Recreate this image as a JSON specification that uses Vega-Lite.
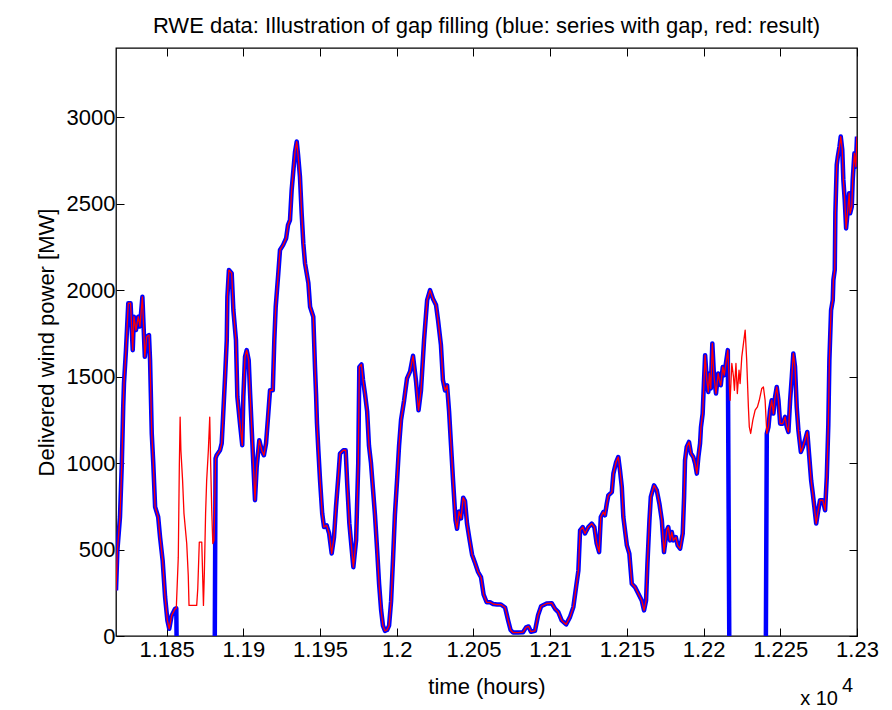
{
  "$schema": "https://vega.github.io/schema/vega-lite/v6.json",
  "width": 741,
  "height": 588,
  "autosize": {"type": "none"},
  "padding": {"left": 116, "top": 48, "right": 35, "bottom": 74},
  "background": "white",
  "title": {
    "text": "RWE data: Illustration of gap filling (blue: series with gap, red: result)",
    "font": "Liberation Sans",
    "fontSize": 22,
    "fontWeight": "normal",
    "color": "#000000",
    "anchor": "middle",
    "baseline": "alphabetic",
    "offset": 15,
    "dy": 22
  },
  "config": {
    "font": "Liberation Sans",
    "view": {"stroke": "#000000", "strokeWidth": 1.3},
    "axis": {
      "grid": false,
      "domain": false,
      "tickColor": "#000000",
      "tickWidth": 1,
      "labelColor": "#000000",
      "labelFont": "Liberation Sans",
      "labelFontSize": 22,
      "titleColor": "#000000",
      "titleFont": "Liberation Sans",
      "titleFontSize": 22,
      "titleFontWeight": "normal",
      "labelFlush": false,
      "labelOverlap": false
    }
  },
  "data": {
    "values": [
      {"hours": 11817.0, "result": 263, "with_gap": 263},
      {"hours": 11817.9, "result": 495, "with_gap": 495},
      {"hours": 11819.6, "result": 688, "with_gap": 688},
      {"hours": 11820.8, "result": 998, "with_gap": 998},
      {"hours": 11821.7, "result": 1325, "with_gap": 1325},
      {"hours": 11822.2, "result": 1461, "with_gap": 1461},
      {"hours": 11823.5, "result": 1653, "with_gap": 1653},
      {"hours": 11825.0, "result": 1924, "with_gap": 1924},
      {"hours": 11826.5, "result": 1924, "with_gap": 1924},
      {"hours": 11827.9, "result": 1653, "with_gap": 1653},
      {"hours": 11828.7, "result": 1846, "with_gap": 1846},
      {"hours": 11830.0, "result": 1769, "with_gap": 1769},
      {"hours": 11831.5, "result": 1846, "with_gap": 1846},
      {"hours": 11832.6, "result": 1790, "with_gap": 1790},
      {"hours": 11834.2, "result": 1961, "with_gap": 1961},
      {"hours": 11835.8, "result": 1614, "with_gap": 1614},
      {"hours": 11837.0, "result": 1730, "with_gap": 1730},
      {"hours": 11838.5, "result": 1740, "with_gap": 1740},
      {"hours": 11839.2, "result": 1595, "with_gap": 1595},
      {"hours": 11840.3, "result": 1172, "with_gap": 1172},
      {"hours": 11841.3, "result": 998, "with_gap": 998},
      {"hours": 11842.5, "result": 746, "with_gap": 746},
      {"hours": 11844.5, "result": 688, "with_gap": 688},
      {"hours": 11845.7, "result": 572, "with_gap": 572},
      {"hours": 11847.4, "result": 437, "with_gap": 437},
      {"hours": 11849.0, "result": 225, "with_gap": 225},
      {"hours": 11850.5, "result": 90, "with_gap": 90},
      {"hours": 11851.7, "result": 42, "with_gap": 42},
      {"hours": 11853.3, "result": 119, "with_gap": 119},
      {"hours": 11855.5, "result": 157, "with_gap": 157},
      {"hours": 11856.3, "result": 160, "with_gap": 160},
      {"hours": 11857.6, "result": 456, "with_gap": -1000},
      {"hours": 11858.3, "result": 998, "with_gap": -1000},
      {"hours": 11858.8, "result": 1266, "with_gap": -1000},
      {"hours": 11859.3, "result": 1074, "with_gap": -1000},
      {"hours": 11860.4, "result": 900, "with_gap": -1000},
      {"hours": 11861.3, "result": 709, "with_gap": -1000},
      {"hours": 11863.1, "result": 535, "with_gap": -1000},
      {"hours": 11864.1, "result": 350, "with_gap": -1000},
      {"hours": 11864.6, "result": 177, "with_gap": -1000},
      {"hours": 11869.6, "result": 177, "with_gap": -1000},
      {"hours": 11870.3, "result": 275, "with_gap": -1000},
      {"hours": 11871.3, "result": 543, "with_gap": -1000},
      {"hours": 11872.9, "result": 543, "with_gap": -1000},
      {"hours": 11874.0, "result": 177, "with_gap": -1000},
      {"hours": 11874.6, "result": 369, "with_gap": -1000},
      {"hours": 11875.4, "result": 709, "with_gap": -1000},
      {"hours": 11876.1, "result": 900, "with_gap": -1000},
      {"hours": 11877.2, "result": 1074, "with_gap": -1000},
      {"hours": 11878.1, "result": 1266, "with_gap": -1000},
      {"hours": 11878.7, "result": 998, "with_gap": -1000},
      {"hours": 11879.4, "result": 727, "with_gap": -1000},
      {"hours": 11880.1, "result": 535, "with_gap": -1000},
      {"hours": 11880.9, "result": 553, "with_gap": -1000},
      {"hours": 11881.9, "result": 1027, "with_gap": 1027},
      {"hours": 11882.6, "result": 1045, "with_gap": 1045},
      {"hours": 11884.8, "result": 1074, "with_gap": 1074},
      {"hours": 11885.9, "result": 1114, "with_gap": 1114},
      {"hours": 11887.0, "result": 1305, "with_gap": 1305},
      {"hours": 11888.1, "result": 1498, "with_gap": 1498},
      {"hours": 11889.2, "result": 1711, "with_gap": 1711},
      {"hours": 11889.6, "result": 1961, "with_gap": 1961},
      {"hours": 11890.6, "result": 2116, "with_gap": 2116},
      {"hours": 11892.4, "result": 2098, "with_gap": 2098},
      {"hours": 11893.5, "result": 1885, "with_gap": 1885},
      {"hours": 11895.2, "result": 1711, "with_gap": 1711},
      {"hours": 11896.1, "result": 1383, "with_gap": 1383},
      {"hours": 11897.8, "result": 1230, "with_gap": 1230},
      {"hours": 11899.3, "result": 1103, "with_gap": 1103},
      {"hours": 11900.0, "result": 1383, "with_gap": 1383},
      {"hours": 11901.1, "result": 1614, "with_gap": 1614},
      {"hours": 11902.2, "result": 1653, "with_gap": 1653},
      {"hours": 11903.5, "result": 1595, "with_gap": 1595},
      {"hours": 11904.4, "result": 1403, "with_gap": 1403},
      {"hours": 11905.6, "result": 1172, "with_gap": 1172},
      {"hours": 11906.5, "result": 998, "with_gap": 998},
      {"hours": 11907.6, "result": 785, "with_gap": 785},
      {"hours": 11908.7, "result": 977, "with_gap": 977},
      {"hours": 11910.4, "result": 1132, "with_gap": 1132},
      {"hours": 11912.0, "result": 1074, "with_gap": 1074},
      {"hours": 11913.4, "result": 1045, "with_gap": 1045},
      {"hours": 11914.8, "result": 1114, "with_gap": 1114},
      {"hours": 11916.1, "result": 1266, "with_gap": 1266},
      {"hours": 11917.4, "result": 1421, "with_gap": 1421},
      {"hours": 11919.2, "result": 1421, "with_gap": 1421},
      {"hours": 11920.2, "result": 1711, "with_gap": 1711},
      {"hours": 11921.1, "result": 1904, "with_gap": 1904},
      {"hours": 11922.8, "result": 2098, "with_gap": 2098},
      {"hours": 11923.9, "result": 2232, "with_gap": 2232},
      {"hours": 11925.9, "result": 2260, "with_gap": 2260},
      {"hours": 11927.9, "result": 2300, "with_gap": 2300},
      {"hours": 11929.1, "result": 2376, "with_gap": 2376},
      {"hours": 11930.4, "result": 2405, "with_gap": 2405},
      {"hours": 11931.5, "result": 2579, "with_gap": 2579},
      {"hours": 11932.7, "result": 2700, "with_gap": 2700},
      {"hours": 11933.7, "result": 2800, "with_gap": 2800},
      {"hours": 11934.8, "result": 2859, "with_gap": 2859},
      {"hours": 11935.7, "result": 2780, "with_gap": 2780},
      {"hours": 11936.9, "result": 2656, "with_gap": 2656},
      {"hours": 11938.0, "result": 2446, "with_gap": 2446},
      {"hours": 11939.1, "result": 2270, "with_gap": 2270},
      {"hours": 11940.2, "result": 2155, "with_gap": 2155},
      {"hours": 11942.4, "result": 2040, "with_gap": 2040},
      {"hours": 11943.5, "result": 1904, "with_gap": 1904},
      {"hours": 11945.6, "result": 1846, "with_gap": 1846},
      {"hours": 11946.7, "result": 1556, "with_gap": 1556},
      {"hours": 11947.4, "result": 1400, "with_gap": 1400},
      {"hours": 11948.0, "result": 1230, "with_gap": 1230},
      {"hours": 11948.9, "result": 1074, "with_gap": 1074},
      {"hours": 11950.0, "result": 900, "with_gap": 900},
      {"hours": 11951.4, "result": 709, "with_gap": 709},
      {"hours": 11952.6, "result": 630, "with_gap": 630},
      {"hours": 11954.3, "result": 640, "with_gap": 640},
      {"hours": 11955.9, "result": 593, "with_gap": 593},
      {"hours": 11957.6, "result": 477, "with_gap": 477},
      {"hours": 11959.1, "result": 572, "with_gap": 572},
      {"hours": 11960.4, "result": 746, "with_gap": 746},
      {"hours": 11961.9, "result": 919, "with_gap": 919},
      {"hours": 11963.0, "result": 1055, "with_gap": 1055},
      {"hours": 11965.2, "result": 1074, "with_gap": 1074},
      {"hours": 11966.7, "result": 1074, "with_gap": 1074},
      {"hours": 11967.7, "result": 882, "with_gap": 882},
      {"hours": 11969.1, "result": 651, "with_gap": 651},
      {"hours": 11971.7, "result": 398, "with_gap": 398},
      {"hours": 11973.5, "result": 553, "with_gap": 553},
      {"hours": 11974.9, "result": 998, "with_gap": 998},
      {"hours": 11975.6, "result": 1556, "with_gap": 1556},
      {"hours": 11977.0, "result": 1570, "with_gap": 1570},
      {"hours": 11978.0, "result": 1480, "with_gap": 1480},
      {"hours": 11979.3, "result": 1400, "with_gap": 1400},
      {"hours": 11980.7, "result": 1300, "with_gap": 1300},
      {"hours": 11981.9, "result": 1100, "with_gap": 1100},
      {"hours": 11983.2, "result": 1000, "with_gap": 1000},
      {"hours": 11984.5, "result": 850, "with_gap": 850},
      {"hours": 11985.8, "result": 700, "with_gap": 700},
      {"hours": 11987.2, "result": 500, "with_gap": 500},
      {"hours": 11988.5, "result": 300, "with_gap": 300},
      {"hours": 11989.8, "result": 150, "with_gap": 150},
      {"hours": 11991.0, "result": 60, "with_gap": 60},
      {"hours": 11992.3, "result": 30, "with_gap": 30},
      {"hours": 11993.7, "result": 35, "with_gap": 35},
      {"hours": 11995.0, "result": 60, "with_gap": 60},
      {"hours": 11996.3, "result": 200, "with_gap": 200},
      {"hours": 11997.6, "result": 450, "with_gap": 450},
      {"hours": 11998.8, "result": 700, "with_gap": 700},
      {"hours": 12000.2, "result": 900, "with_gap": 900},
      {"hours": 12001.5, "result": 1100, "with_gap": 1100},
      {"hours": 12002.8, "result": 1250, "with_gap": 1250},
      {"hours": 12004.8, "result": 1363, "with_gap": 1363},
      {"hours": 12006.7, "result": 1490, "with_gap": 1490},
      {"hours": 12008.7, "result": 1530, "with_gap": 1530},
      {"hours": 12010.6, "result": 1620, "with_gap": 1620},
      {"hours": 12012.6, "result": 1470, "with_gap": 1470},
      {"hours": 12014.2, "result": 1305, "with_gap": 1305},
      {"hours": 12015.8, "result": 1420, "with_gap": 1420},
      {"hours": 12017.8, "result": 1711, "with_gap": 1711},
      {"hours": 12019.8, "result": 1942, "with_gap": 1942},
      {"hours": 12021.7, "result": 2000, "with_gap": 2000},
      {"hours": 12023.6, "result": 1950, "with_gap": 1950},
      {"hours": 12025.6, "result": 1914, "with_gap": 1914},
      {"hours": 12026.9, "result": 1827, "with_gap": 1827},
      {"hours": 12028.8, "result": 1682, "with_gap": 1682},
      {"hours": 12030.1, "result": 1480, "with_gap": 1480},
      {"hours": 12031.5, "result": 1420, "with_gap": 1420},
      {"hours": 12032.8, "result": 1450, "with_gap": 1450},
      {"hours": 12034.1, "result": 1300, "with_gap": 1300},
      {"hours": 12035.4, "result": 1100, "with_gap": 1100},
      {"hours": 12036.7, "result": 900, "with_gap": 900},
      {"hours": 12038.3, "result": 670, "with_gap": 670},
      {"hours": 12039.3, "result": 620, "with_gap": 620},
      {"hours": 12040.6, "result": 720, "with_gap": 720},
      {"hours": 12041.9, "result": 680, "with_gap": 680},
      {"hours": 12043.3, "result": 800, "with_gap": 800},
      {"hours": 12044.5, "result": 780, "with_gap": 780},
      {"hours": 12045.8, "result": 650, "with_gap": 650},
      {"hours": 12047.4, "result": 560, "with_gap": 560},
      {"hours": 12049.1, "result": 470, "with_gap": 470},
      {"hours": 12051.1, "result": 420, "with_gap": 420},
      {"hours": 12053.0, "result": 370, "with_gap": 370},
      {"hours": 12054.9, "result": 340, "with_gap": 340},
      {"hours": 12056.6, "result": 240, "with_gap": 240},
      {"hours": 12058.6, "result": 195, "with_gap": 195},
      {"hours": 12060.8, "result": 195, "with_gap": 195},
      {"hours": 12062.8, "result": 185, "with_gap": 185},
      {"hours": 12065.4, "result": 182, "with_gap": 182},
      {"hours": 12067.9, "result": 182, "with_gap": 182},
      {"hours": 12070.6, "result": 165, "with_gap": 165},
      {"hours": 12072.6, "result": 90, "with_gap": 90},
      {"hours": 12074.2, "result": 35, "with_gap": 35},
      {"hours": 12075.8, "result": 20, "with_gap": 20},
      {"hours": 12079.1, "result": 20, "with_gap": 20},
      {"hours": 12082.3, "result": 22, "with_gap": 22},
      {"hours": 12084.3, "result": 50, "with_gap": 50},
      {"hours": 12085.9, "result": 55, "with_gap": 55},
      {"hours": 12087.5, "result": 25, "with_gap": 25},
      {"hours": 12090.1, "result": 30, "with_gap": 30},
      {"hours": 12092.1, "result": 120, "with_gap": 120},
      {"hours": 12094.1, "result": 172, "with_gap": 172},
      {"hours": 12097.7, "result": 188, "with_gap": 188},
      {"hours": 12101.0, "result": 190, "with_gap": 190},
      {"hours": 12103.2, "result": 157, "with_gap": 157},
      {"hours": 12105.3, "result": 138, "with_gap": 138},
      {"hours": 12107.5, "result": 90, "with_gap": 90},
      {"hours": 12110.4, "result": 67, "with_gap": 67},
      {"hours": 12112.9, "result": 109, "with_gap": 109},
      {"hours": 12115.1, "result": 167, "with_gap": 167},
      {"hours": 12116.9, "result": 283, "with_gap": 283},
      {"hours": 12118.4, "result": 379, "with_gap": 379},
      {"hours": 12119.5, "result": 611, "with_gap": 611},
      {"hours": 12121.2, "result": 630, "with_gap": 630},
      {"hours": 12122.7, "result": 593, "with_gap": 593},
      {"hours": 12124.9, "result": 630, "with_gap": 630},
      {"hours": 12127.1, "result": 650, "with_gap": 650},
      {"hours": 12128.8, "result": 630, "with_gap": 630},
      {"hours": 12130.3, "result": 535, "with_gap": 535},
      {"hours": 12131.9, "result": 485, "with_gap": 485},
      {"hours": 12133.0, "result": 688, "with_gap": 688},
      {"hours": 12134.7, "result": 717, "with_gap": 717},
      {"hours": 12135.7, "result": 698, "with_gap": 698},
      {"hours": 12136.9, "result": 765, "with_gap": 765},
      {"hours": 12137.9, "result": 813, "with_gap": 813},
      {"hours": 12140.2, "result": 832, "with_gap": 832},
      {"hours": 12141.2, "result": 939, "with_gap": 939},
      {"hours": 12143.0, "result": 1006, "with_gap": 1006},
      {"hours": 12144.4, "result": 1035, "with_gap": 1035},
      {"hours": 12145.5, "result": 958, "with_gap": 958},
      {"hours": 12146.7, "result": 861, "with_gap": 861},
      {"hours": 12147.7, "result": 688, "with_gap": 688},
      {"hours": 12150.0, "result": 524, "with_gap": 524},
      {"hours": 12151.6, "result": 476, "with_gap": 476},
      {"hours": 12153.2, "result": 302, "with_gap": 302},
      {"hours": 12155.3, "result": 283, "with_gap": 283},
      {"hours": 12157.5, "result": 244, "with_gap": 244},
      {"hours": 12159.7, "result": 205, "with_gap": 205},
      {"hours": 12161.2, "result": 148, "with_gap": 148},
      {"hours": 12162.5, "result": 205, "with_gap": 205},
      {"hours": 12163.4, "result": 418, "with_gap": 418},
      {"hours": 12164.7, "result": 669, "with_gap": 669},
      {"hours": 12165.6, "result": 804, "with_gap": 804},
      {"hours": 12167.7, "result": 871, "with_gap": 871},
      {"hours": 12169.5, "result": 842, "with_gap": 842},
      {"hours": 12171.2, "result": 765, "with_gap": 765},
      {"hours": 12172.8, "result": 669, "with_gap": 669},
      {"hours": 12174.2, "result": 485, "with_gap": 485},
      {"hours": 12176.0, "result": 611, "with_gap": 611},
      {"hours": 12177.0, "result": 630, "with_gap": 630},
      {"hours": 12178.2, "result": 553, "with_gap": 553},
      {"hours": 12179.3, "result": 601, "with_gap": 601},
      {"hours": 12180.3, "result": 553, "with_gap": 553},
      {"hours": 12181.9, "result": 572, "with_gap": 572},
      {"hours": 12183.1, "result": 524, "with_gap": 524},
      {"hours": 12184.7, "result": 505, "with_gap": 505},
      {"hours": 12186.4, "result": 592, "with_gap": 592},
      {"hours": 12187.3, "result": 804, "with_gap": 804},
      {"hours": 12187.9, "result": 1016, "with_gap": 1016},
      {"hours": 12189.0, "result": 1093, "with_gap": 1093},
      {"hours": 12190.5, "result": 1122, "with_gap": 1122},
      {"hours": 12191.8, "result": 1055, "with_gap": 1055},
      {"hours": 12193.3, "result": 1035, "with_gap": 1035},
      {"hours": 12194.5, "result": 997, "with_gap": 997},
      {"hours": 12195.6, "result": 939, "with_gap": 939},
      {"hours": 12196.6, "result": 1035, "with_gap": 1035},
      {"hours": 12197.7, "result": 1113, "with_gap": 1113},
      {"hours": 12198.3, "result": 1209, "with_gap": 1209},
      {"hours": 12199.4, "result": 1286, "with_gap": 1286},
      {"hours": 12200.3, "result": 1479, "with_gap": 1479},
      {"hours": 12201.0, "result": 1624, "with_gap": 1624},
      {"hours": 12202.1, "result": 1479, "with_gap": 1479},
      {"hours": 12203.1, "result": 1411, "with_gap": 1411},
      {"hours": 12203.8, "result": 1518, "with_gap": 1518},
      {"hours": 12204.7, "result": 1431, "with_gap": 1431},
      {"hours": 12205.7, "result": 1692, "with_gap": 1692},
      {"hours": 12206.8, "result": 1498, "with_gap": 1498},
      {"hours": 12208.1, "result": 1402, "with_gap": 1402},
      {"hours": 12209.5, "result": 1518, "with_gap": 1518},
      {"hours": 12210.3, "result": 1479, "with_gap": 1479},
      {"hours": 12211.2, "result": 1450, "with_gap": 1450},
      {"hours": 12212.5, "result": 1556, "with_gap": 1556},
      {"hours": 12213.5, "result": 1508, "with_gap": 1508},
      {"hours": 12214.4, "result": 1566, "with_gap": 1566},
      {"hours": 12215.8, "result": 1653, "with_gap": 1653},
      {"hours": 12217.3, "result": 1363, "with_gap": -1000},
      {"hours": 12218.4, "result": 1576, "with_gap": -1000},
      {"hours": 12219.5, "result": 1498, "with_gap": -1000},
      {"hours": 12220.1, "result": 1421, "with_gap": -1000},
      {"hours": 12221.1, "result": 1576, "with_gap": -1000},
      {"hours": 12222.0, "result": 1402, "with_gap": -1000},
      {"hours": 12223.1, "result": 1537, "with_gap": -1000},
      {"hours": 12223.8, "result": 1460, "with_gap": -1000},
      {"hours": 12224.9, "result": 1614, "with_gap": -1000},
      {"hours": 12226.0, "result": 1692, "with_gap": -1000},
      {"hours": 12227.1, "result": 1769, "with_gap": -1000},
      {"hours": 12228.1, "result": 1595, "with_gap": -1000},
      {"hours": 12229.2, "result": 1325, "with_gap": -1000},
      {"hours": 12229.8, "result": 1209, "with_gap": -1000},
      {"hours": 12230.7, "result": 1171, "with_gap": -1000},
      {"hours": 12232.1, "result": 1248, "with_gap": -1000},
      {"hours": 12233.6, "result": 1306, "with_gap": -1000},
      {"hours": 12235.1, "result": 1325, "with_gap": -1000},
      {"hours": 12236.3, "result": 1363, "with_gap": -1000},
      {"hours": 12237.9, "result": 1431, "with_gap": -1000},
      {"hours": 12239.0, "result": 1440, "with_gap": -1000},
      {"hours": 12240.1, "result": 1363, "with_gap": -1000},
      {"hours": 12241.2, "result": 1171, "with_gap": 1171},
      {"hours": 12242.3, "result": 1209, "with_gap": 1209},
      {"hours": 12243.3, "result": 1306, "with_gap": 1306},
      {"hours": 12244.4, "result": 1363, "with_gap": 1363},
      {"hours": 12245.5, "result": 1286, "with_gap": 1286},
      {"hours": 12246.6, "result": 1382, "with_gap": 1382},
      {"hours": 12247.7, "result": 1440, "with_gap": 1440},
      {"hours": 12248.8, "result": 1363, "with_gap": 1363},
      {"hours": 12249.9, "result": 1228, "with_gap": 1228},
      {"hours": 12251.6, "result": 1228, "with_gap": 1228},
      {"hours": 12253.1, "result": 1267, "with_gap": 1267},
      {"hours": 12254.2, "result": 1209, "with_gap": 1209},
      {"hours": 12255.3, "result": 1180, "with_gap": 1180},
      {"hours": 12256.4, "result": 1363, "with_gap": 1363},
      {"hours": 12257.5, "result": 1498, "with_gap": 1498},
      {"hours": 12258.5, "result": 1634, "with_gap": 1634},
      {"hours": 12259.6, "result": 1556, "with_gap": 1556},
      {"hours": 12260.7, "result": 1325, "with_gap": 1325},
      {"hours": 12261.8, "result": 1190, "with_gap": 1190},
      {"hours": 12263.4, "result": 1064, "with_gap": 1064},
      {"hours": 12264.7, "result": 1093, "with_gap": 1093},
      {"hours": 12266.1, "result": 1132, "with_gap": 1132},
      {"hours": 12267.6, "result": 1180, "with_gap": 1180},
      {"hours": 12268.9, "result": 1035, "with_gap": 1035},
      {"hours": 12270.1, "result": 900, "with_gap": 900},
      {"hours": 12271.2, "result": 823, "with_gap": 823},
      {"hours": 12272.2, "result": 746, "with_gap": 746},
      {"hours": 12273.4, "result": 650, "with_gap": 650},
      {"hours": 12274.4, "result": 707, "with_gap": 707},
      {"hours": 12275.9, "result": 785, "with_gap": 785},
      {"hours": 12277.7, "result": 785, "with_gap": 785},
      {"hours": 12279.2, "result": 727, "with_gap": 727},
      {"hours": 12280.3, "result": 919, "with_gap": 919},
      {"hours": 12281.3, "result": 1219, "with_gap": 1219},
      {"hours": 12282.0, "result": 1595, "with_gap": 1595},
      {"hours": 12283.1, "result": 1885, "with_gap": 1885},
      {"hours": 12284.2, "result": 1942, "with_gap": 1942},
      {"hours": 12284.6, "result": 2058, "with_gap": 2058},
      {"hours": 12285.5, "result": 2116, "with_gap": 2116},
      {"hours": 12285.9, "result": 2444, "with_gap": 2444},
      {"hours": 12286.8, "result": 2724, "with_gap": 2724},
      {"hours": 12287.5, "result": 2772, "with_gap": 2772},
      {"hours": 12288.6, "result": 2830, "with_gap": 2830},
      {"hours": 12289.4, "result": 2888, "with_gap": 2888},
      {"hours": 12290.4, "result": 2811, "with_gap": 2811},
      {"hours": 12291.1, "result": 2637, "with_gap": 2637},
      {"hours": 12292.0, "result": 2521, "with_gap": 2521},
      {"hours": 12292.9, "result": 2357, "with_gap": 2357},
      {"hours": 12294.0, "result": 2463, "with_gap": 2463},
      {"hours": 12294.9, "result": 2560, "with_gap": 2560},
      {"hours": 12295.5, "result": 2444, "with_gap": 2444},
      {"hours": 12296.6, "result": 2482, "with_gap": 2482},
      {"hours": 12297.2, "result": 2637, "with_gap": 2637},
      {"hours": 12298.3, "result": 2791, "with_gap": 2791},
      {"hours": 12299.2, "result": 2714, "with_gap": 2714},
      {"hours": 12300.0, "result": 2888, "with_gap": 2888}
    ]
  },
  "layer": [
    {
      "mark": {"type": "line", "color": "#0000ff", "strokeWidth": 4.5, "strokeJoin": "round", "clip": true},
      "encoding": {
        "x": {
          "field": "hours",
          "type": "quantitative",
          "scale": {"domain": [11817, 12300], "nice": false, "zero": false},
          "axis": {
            "orient": "bottom",
            "values": [11850, 11900, 11950, 12000, 12050, 12100, 12150, 12200, 12250, 12300],
            "labelExpr": "format(datum.value / 10000, '~g')",
            "tickSize": -8,
            "labelPadding": 11,
            "title": "time (hours)",
            "titleBaseline": "alphabetic",
            "titleY": 57
          }
        },
        "y": {
          "field": "with_gap",
          "type": "quantitative",
          "scale": {"domain": [0, 3400], "nice": false, "zero": false},
          "axis": {
            "orient": "left",
            "values": [0, 500, 1000, 1500, 2000, 2500, 3000],
            "format": "d",
            "tickSize": -8,
            "labelPadding": 9,
            "title": "Delivered wind power [MW]",
            "titlePadding": 8
          }
        }
      }
    },
    {
      "mark": {"type": "line", "color": "#ff0000", "strokeWidth": 1.3, "strokeJoin": "round", "clip": true},
      "encoding": {
        "x": {
          "field": "hours",
          "type": "quantitative",
          "axis": {
            "orient": "top",
            "values": [11850, 11900, 11950, 12000, 12050, 12100, 12150, 12200, 12250, 12300],
            "tickSize": -8,
            "labels": false,
            "title": null
          }
        },
        "y": {
          "field": "result",
          "type": "quantitative",
          "axis": {
            "orient": "right",
            "values": [0, 500, 1000, 1500, 2000, 2500, 3000],
            "tickSize": -8,
            "labels": false,
            "title": null
          }
        }
      }
    },
    {
      "data": {"values": [{"note": "exponent"}]},
      "mark": {"type": "text", "text": "x 10", "align": "right", "baseline": "alphabetic", "fontSize": 20, "dx": -19, "dy": 69, "color": "#000000"},
      "encoding": {
        "x": {"datum": 12300, "type": "quantitative", "axis": null},
        "y": {"datum": 0, "type": "quantitative", "axis": null}
      }
    },
    {
      "data": {"values": [{"note": "exponent"}]},
      "mark": {"type": "text", "text": "4", "align": "left", "baseline": "alphabetic", "fontSize": 20, "dx": -15, "dy": 56, "color": "#000000"},
      "encoding": {
        "x": {"datum": 12300, "type": "quantitative", "axis": null},
        "y": {"datum": 0, "type": "quantitative", "axis": null}
      }
    }
  ],
  "resolve": {"axis": {"x": "independent", "y": "independent"}}
}
